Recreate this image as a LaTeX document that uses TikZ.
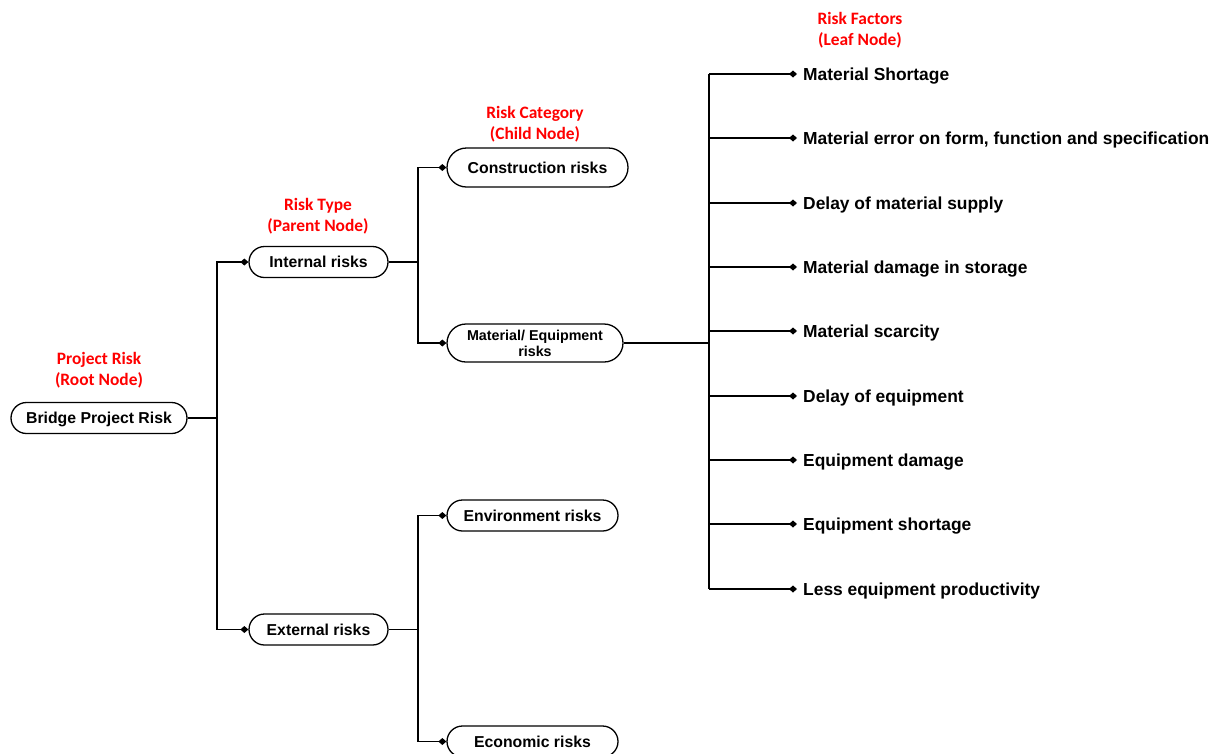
\documentclass[tikz,border=0pt]{standalone}
\usepackage{fontspec}
\setmainfont{Liberation Sans}
\newfontfamily\calib{Carlito}
\usetikzlibrary{shapes.misc,arrows.meta}
\begin{document}
\begin{tikzpicture}[x=1pt,y=-1pt,
  box/.style={rounded rectangle, draw, line width=1.3pt, font=\fontsize{15.8}{17}\selectfont\bfseries, inner sep=2pt, minimum height=31pt, text height=11.3pt, text depth=0pt},
  leaf/.style={anchor=base west, inner xsep=6pt, inner ysep=0pt, font=\fontsize{17.4}{19}\selectfont\bfseries},
  lab/.style={text=red, font=\calib\fontsize{17.4}{21}\selectfont\bfseries, align=center},
  conn/.style={line width=1.9pt},
  tip/.style={conn, -{Diamond[length=8pt,width=7pt]}}]
\useasboundingbox (0,0) rectangle (1217,753);
% nodes
\node[box, minimum width=180pt] (root) at (99,418) {Bridge Project Risk};
\node[box, minimum width=143pt] (int) at (318.5,262) {Internal risks};
\node[box, minimum width=143pt] (ext) at (318.5,629.5) {External risks};
\node[box, minimum width=185pt, minimum height=39pt] (con) at (537.5,167.5) {Construction risks};
\node[box, minimum width=180pt, minimum height=38pt, align=center, text height=, text depth=, font=\fontsize{14.3}{16}\selectfont\bfseries] (mat) at (535,343) {Material/ Equipment\\risks};
\node[box, minimum width=175pt] (env) at (532.5,515.5) {Environment risks};
\node[box, minimum width=175pt] (eco) at (532.5,741.5) {Economic risks};
% labels
\node[lab] (l1) at (99,370) {Project Risk\\(Root Node)};
\node[lab] (l2) at (318,216) {Risk Type\\(Parent Node)};
\node[lab] (l3) at (535,124.5) {Risk Category\\(Child Node)};
\node[lab] (l4) at (860,30) {Risk Factors\\(Leaf Node)};
% leaves
\foreach \n/\y/\t in {1/74/Material Shortage,
  2/138/{Material error on form, function and specification},
  3/203/Delay of material supply,
  4/267/Material damage in storage,
  5/331/Material scarcity,
  6/396/Delay of equipment,
  7/460/Equipment damage,
  8/524/Equipment shortage,
  9/589/Less equipment productivity}{
  \node[leaf] (f\n) at (797,\y+6.3) {\t};
  \coordinate (g\n) at (709,\y);
}
% junctions
\coordinate (j1) at (217,418);
\coordinate (j2) at (418,262);
\coordinate (j3) at (418,629.5);
\coordinate (j4) at (709,343);
% connectors
\draw[conn] (root.east) -- (j1);
\draw[tip] (j1) |- (int.west);
\draw[tip] (j1) |- (ext.west);
\draw[conn] (int.east) -- (j2);
\draw[tip] (j2) |- (con.west);
\draw[tip] (j2) |- (mat.west);
\draw[conn] (ext.east) -- (j3);
\draw[tip] (j3) |- (env.west);
\draw[tip] (j3) |- (eco.west);
\draw[conn] (mat.east) -- (j4);
\draw[conn] (g1) -- (g9);
\foreach \n in {1,...,9}{\draw[tip] (g\n) -- (g\n -| f\n.west);}
\end{tikzpicture}
\end{document}
